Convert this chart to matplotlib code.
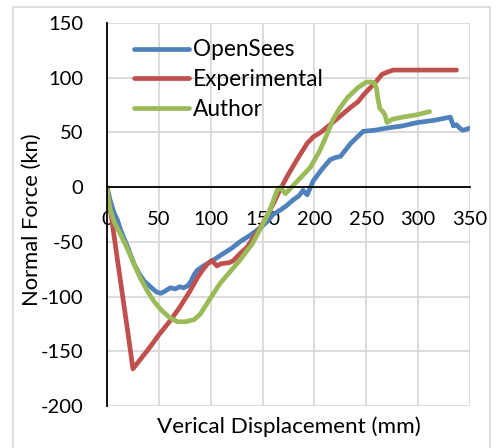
import matplotlib
matplotlib.use("Agg")
import matplotlib.pyplot as plt
from matplotlib.patches import Rectangle

plt.rcParams['font.family'] = ['Lato', 'DejaVu Sans']
plt.rcParams['axes.unicode_minus'] = False

x_open = [0, 3, 7, 10, 13.5, 20, 26, 31, 36, 43, 48, 52, 56, 61, 66, 70, 74, 78, 81, 84, 87, 93, 102, 110, 120, 128, 138, 148, 155, 160, 167, 173, 179, 185, 189, 193, 199, 207, 215, 220, 225, 235, 247, 258, 270, 285, 299, 315, 331, 334, 337, 340, 343, 347, 350]
y_open = [0, -12, -24, -30, -40, -55, -70, -79, -86, -92, -96, -97, -95, -92, -93, -91, -92, -90, -86, -80, -76, -72, -67, -62, -56, -50, -44, -37, -31, -25, -21, -17, -12, -8, -3, -7, 6, 16, 25, 27, 28, 40, 51, 52, 54, 56, 59, 61, 64, 56, 57, 54, 52, 53, 54]

x_exp = [0, 2, 10, 20, 25, 30, 40, 50, 61, 70, 80, 87, 92, 97, 101, 106, 110, 118, 122, 128, 135, 142, 148, 155, 162, 167, 175, 185, 193, 199, 206, 215, 225, 235, 242, 248, 254, 260, 265, 270, 276, 290, 310, 337]
y_exp = [0, -12, -66, -132, -166, -160, -148, -135, -122, -110, -95, -83, -76, -70, -67, -72, -70, -69, -67, -61, -55, -45, -37, -25, -12, -2, 12, 28, 40, 46, 50, 57, 65, 73, 78, 85, 91, 97, 103, 105, 107, 107, 107, 107]

x_auth = [0, 1, 3, 7, 13, 20, 26, 32, 39, 45, 52, 60, 68, 76, 84, 90, 100, 109, 118, 128, 135, 140, 145, 150, 157, 164, 167, 172, 177, 185, 196, 205, 212, 218, 225, 232, 242, 250, 255, 258, 260, 261, 263, 266, 268, 270, 275, 285, 298, 311]
y_auth = [0, -8, -20, -32, -43, -57, -70, -83, -95, -104, -112, -119, -123, -123, -121, -116, -101, -88, -78, -67, -58, -52, -43, -34, -21, -3, 0, -6, -1, 7, 18, 33, 48, 62, 73, 82, 91, 96, 96, 95, 90, 82, 72, 69, 66, 59, 62, 64, 66, 69]

labels = ["OpenSees", "Experimental", "Author"]
colors = ["#4F81BD", "#C0504D", "#9BBB59"]
x_ticks = [0, 50, 100, 150, 200, 250, 300, 350]
y_ticks = [-200, -150, -100, -50, 0, 50, 100, 150]

W, H = 496, 448
fig = plt.figure(figsize=(W / 100, H / 100), dpi=100)
fig.patches.append(Rectangle((13 / W, -0.01), (490 - 13) / W, 1 - 7 / H + 0.01,
                             transform=fig.transFigure, fill=False,
                             edgecolor="#D9D9D9", linewidth=1.2))

ax = fig.add_axes([107 / W, 1 - 406 / H, (470 - 107) / W, (406 - 23) / H])
for xs, ys, lab, c in zip([x_open, x_exp, x_auth], [y_open, y_exp, y_auth], labels, colors):
    ax.plot(xs, ys, color=c, lw=3.4, label=lab, solid_joinstyle='round', solid_capstyle='round')

ax.set_xlim(0, 350)
ax.set_ylim(-200, 150)
ax.set_xticks(x_ticks)
ax.set_yticks(y_ticks)
ax.grid(True, color="#D9D9D9", linewidth=1.3)
ax.set_axisbelow(True)

for s in ['top', 'right']:
    ax.spines[s].set_visible(False)
ax.spines['bottom'].set_position(('data', 0))
ax.spines['bottom'].set_color('black')
ax.spines['bottom'].set_linewidth(1.3)
ax.spines['left'].set_color('black')
ax.spines['left'].set_linewidth(1.3)
ax.tick_params(axis='both', length=0, labelsize=14.5)
ax.tick_params(axis='x', pad=17)
ax.tick_params(axis='y', pad=17)
ax.set_ylabel("Normal Force (kn)", fontsize=15.8)
ax.yaxis.set_label_coords(-0.179, 0.486)
ax.text(0.5, -0.027, "Verical Displacement (mm)", transform=ax.transAxes,
        ha='center', va='top', fontsize=16.2)

ax.legend(loc='upper left', bbox_to_anchor=(0.075, 0.957), frameon=False,
          fontsize=16.3, handlelength=2.43, handletextpad=0.18,
          labelspacing=0.38, borderpad=0, borderaxespad=0)

fig.savefig("out.png", dpi=100)
